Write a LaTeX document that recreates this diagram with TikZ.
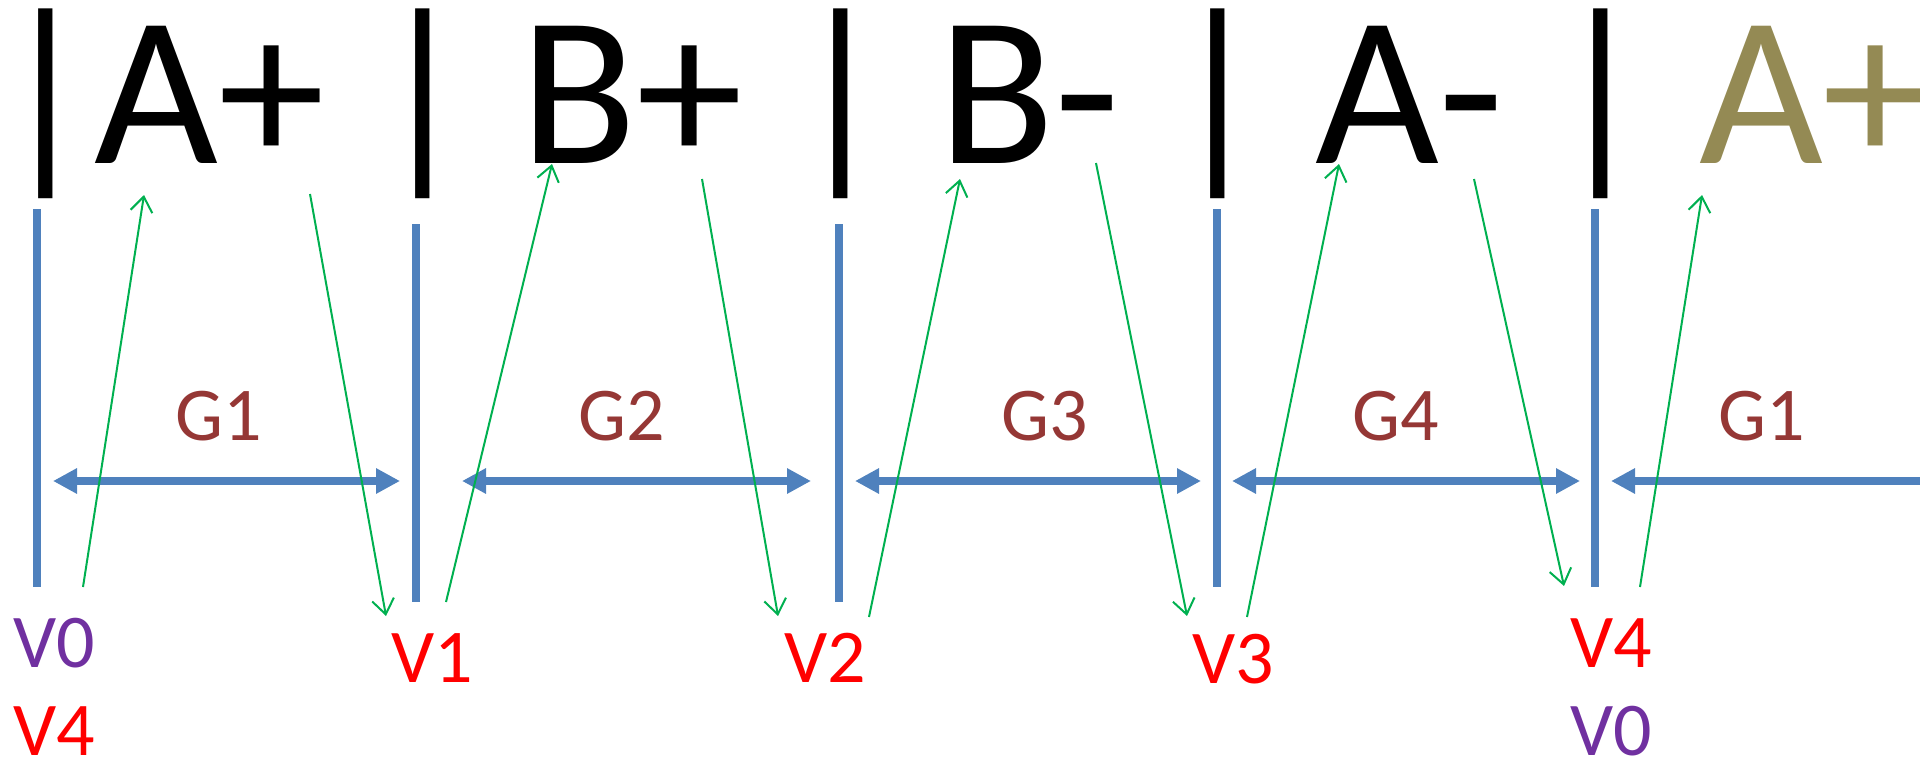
\documentclass[tikz,border=0pt]{standalone}
\usepackage{fontspec}
\setmainfont{Carlito}
\usetikzlibrary{arrows.meta}

\begin{document}
\begin{tikzpicture}[x=1pt, y=-1pt,
    wall/.style={draw=lineBlue, line width=8pt},
    gapArrow/.style={draw=lineBlue, line width=8pt},
    ray/.style={draw=rayGreen, line width=2pt, -{Straight Barb[length=15pt,width=22pt]}},
    gapLabel/.style={anchor=base, inner sep=0pt, text=gapRed, font=\fontsize{76}{76}\selectfont},
    vertLabel/.style={anchor=base west, inner sep=0pt, font=\fontsize{76}{76}\selectfont}]
    \definecolor{lineBlue}{HTML}{4F81BD}
    \definecolor{rayGreen}{HTML}{00B050}
    \definecolor{gapRed}{HTML}{953735}
    \definecolor{vPurple}{HTML}{7030A0}
    \definecolor{vRed}{HTML}{FF0000}
    \definecolor{seqOlive}{HTML}{948A54}

    \def\arrowY{481}

    \useasboundingbox (0,0) rectangle (1920,760);
    \clip (0,0) rectangle (1920,760);

    % Sequence of states
    \node[anchor=base west, inner sep=0pt, font=\fontsize{214}{214}\selectfont] (seq) at (-4,163)
        {|A+ | B+ | B- | A- | \textcolor{seqOlive}{A+}};

    % Draw boundaries
    \foreach \x/\t in {37/209, 416/224, 839/224, 1217/209, 1595/209}
        \draw[wall] (\x,\t) -- (\x,\t+378);

    % Draw gaps
    \foreach \a/\b in {53/400, 462/811, 855/1201, 1232/1580}
        \draw[gapArrow, {Triangle[length=24pt,width=24pt]}-{Triangle[length=24pt,width=24pt]}] (\a,\arrowY) -- (\b,\arrowY);
    \draw[gapArrow, {Triangle[length=24pt,width=24pt]}-] (1611,\arrowY) -- (1940,\arrowY);

    % Label gaps
    \node[gapLabel] (g1) at (219,440) {G1};
    \node[gapLabel] (g2) at (622,440) {G2};
    \node[gapLabel] (g3) at (1045,440) {G3};
    \node[gapLabel] (g4) at (1396,440) {G4};
    \node[gapLabel] (g1b) at (1762,440) {G1};

    % Define ray end points
    \coordinate (u1s) at (83,587);   \coordinate (u1e) at (144,195);
    \coordinate (d1s) at (310,194);  \coordinate (d1e) at (386,616);
    \coordinate (u2s) at (446,602);  \coordinate (u2e) at (552,164);
    \coordinate (d2s) at (702,179);  \coordinate (d2e) at (778,616);
    \coordinate (u3s) at (869,617);  \coordinate (u3e) at (960,179);
    \coordinate (d3s) at (1096,163); \coordinate (d3e) at (1187,616);
    \coordinate (u4s) at (1247,617); \coordinate (u4e) at (1339,164);
    \coordinate (d4s) at (1474,179); \coordinate (d4e) at (1564,586);
    \coordinate (u5s) at (1640,587); \coordinate (u5e) at (1702,195);

    % Draw rays
    \foreach \r in {u1,d1,u2,d2,u3,d3,u4,d4,u5}
        \draw[ray] (\r s) -- (\r e);

    % Label vertices
    \node[vertLabel, text=vPurple] (v0) at (13,667) {V0};
    \node[vertLabel, text=vRed] (v4a) at (13,755) {V4};
    \node[vertLabel, text=vRed] (v1) at (391,682) {V1};
    \node[vertLabel, text=vRed] (v2) at (784,682) {V2};
    \node[vertLabel, text=vRed] (v3) at (1192,683) {V3};
    \node[vertLabel, text=vRed] (v4) at (1570,667) {V4};
    \node[vertLabel, text=vPurple] (v0b) at (1570,755) {V0};

\end{tikzpicture}
\end{document}
